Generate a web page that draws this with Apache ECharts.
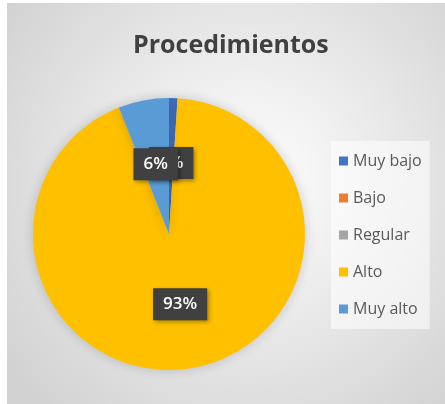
<!DOCTYPE html>
<html>
<head>
<meta charset="utf-8">
<script src="https://cdn.jsdelivr.net/npm/echarts@6/dist/echarts.min.js"></script>
<style>
  html, body { margin: 0; padding: 0; background: #ffffff; }
  #chart { position: absolute; left: 7px; top: 3px; width: 438px; height: 401px; }
</style>
</head>
<body>
<div id="chart"></div>
<script>
var categories = ['Muy bajo', 'Bajo', 'Regular', 'Alto', 'Muy alto']
var values = [1, 0, 0, 93, 6]
var colors = ['#4472C4', '#ED7D31', '#A5A5A5', '#FFC000', '#5B9BD5']

var chart = echarts.init(document.getElementById('chart'))

var pieData = []
for (var i = 0; i < categories.length; i++) {
  pieData.push({
    name: categories[i],
    value: values[i],
    itemStyle: { color: colors[i] },
    label: { show: values[i] > 0 }
  })
}

chart.setOption({
  backgroundColor: {
    type: 'radial', x: 0.55, y: 0.45, r: 0.75,
    colorStops: [
      { offset: 0, color: '#ffffff' },
      { offset: 1, color: '#d2d2d2' }
    ]
  },
  title: {
    text: 'Procedimientos',
    left: 121,
    top: 25,
    textStyle: {
      fontFamily: 'Open Sans',
      fontSize: 25,
      fontWeight: 'bold',
      color: '#404040'
    }
  },
  legend: {
    orient: 'vertical',
    left: 324,
    top: 138,
    itemWidth: 9,
    itemHeight: 9,
    itemGap: 21,
    icon: 'rect',
    padding: [12, 8, 12, 8],
    backgroundColor: 'rgba(255,255,255,0.55)',
    data: categories,
    textStyle: {
      fontFamily: 'Open Sans',
      fontSize: 16,
      color: '#595959'
    }
  },
  series: [{
    type: 'pie',
    center: [162, 231],
    radius: 136,
    startAngle: 90,
    clockwise: true,
    minAngle: 0,
    minShowLabelAngle: 0,
    avoidLabelOverlap: false,
    silent: true,
    data: pieData,
    itemStyle: {
      shadowBlur: 12,
      shadowColor: 'rgba(0,0,0,0.18)'
    },
    labelLayout: { hideOverlap: false },
    label: {
      show: true,
      position: 'inside',
      formatter: '{c}%',
      fontFamily: 'Open Sans',
      fontSize: 17,
      fontWeight: 600,
      color: '#ffffff',
      backgroundColor: '#404040',
      padding: [8, 10, 7, 10],
      shadowBlur: 4,
      shadowColor: 'rgba(0,0,0,0.35)',
      shadowOffsetX: 2,
      shadowOffsetY: 2
    },
    labelLine: { show: false }
  }]
})
</script>
</body>
</html>
